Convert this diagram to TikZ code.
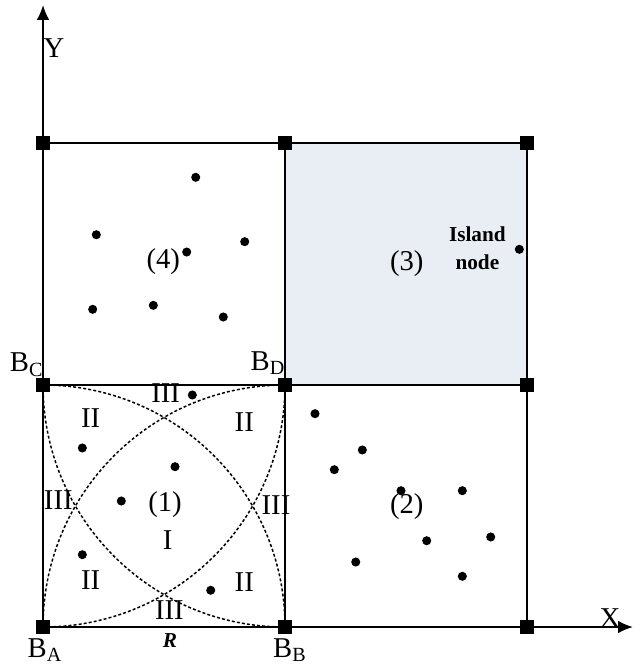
\documentclass[tikz,border=0pt]{standalone}
\usepackage{fontspec}
\setmainfont{Liberation Serif}
\usetikzlibrary{arrows.meta}

\definecolor{islandblue}{RGB}{233,238,244}

\tikzset{
  bus/.style={fill=black, minimum size=0.24cm, inner sep=0pt},
  load/.style={circle, fill=black, minimum size=0.15cm, inner sep=0pt},
  zone/.style={font=\fontsize{13.5}{15}\selectfont, inner sep=0pt},
  small/.style={font=\fontsize{10}{12}\selectfont\bfseries, inner sep=0pt},
  arcline/.style={line width=0.7pt, dash pattern=on 1.4pt off 1pt},
}

\begin{document}
\begin{tikzpicture}
\useasboundingbox (-0.711,-0.628) rectangle (9.835,10.364);

% Island area
\fill[islandblue] (4,4) rectangle (8,8);

% Grid
\draw[line width=1pt] (0,0) grid[step=4] (8,8);

% Axes
\coordinate (o) at (0,0);
\coordinate (xend) at (9.75,0);
\coordinate (yend) at (0,10.28);
\draw[line width=0.8pt, -{Latex[length=7pt,width=6pt]}] (o) -- (xend);
\draw[line width=0.8pt, -{Latex[length=7pt,width=6pt]}] (o) -- (yend);
\node[zone] (xlab) at (9.372,0.149) {X};
\node[zone] (ylab) at (0.182,9.570) {Y};

% Arcs of radius R
\draw[arcline] (4,0) arc[start angle=0, end angle=90, radius=4];
\draw[arcline] (0,0) arc[start angle=180, end angle=90, radius=4];
\draw[arcline] (0,4) arc[start angle=180, end angle=270, radius=4];
\draw[arcline] (0,0) arc[start angle=270, end angle=360, radius=4];

% Buses
\foreach \i in {0,1,2}
  \foreach \j in {0,1,2}
    \node[bus] (b\i\j) at (4*\i,4*\j) {};

% Bus names
\node[zone] (ba) at (0.033,-0.380) {B\textsubscript{A}};
\node[zone] (bb) at (4.083,-0.380) {B\textsubscript{B}};
\node[zone] (bc) at (-0.269,4.331) {B\textsubscript{C}};
\node[zone] (bd) at (3.719,4.364) {B\textsubscript{D}};
\node[small, font=\fontsize{10}{12}\selectfont\bfseries\itshape] (rlab) at (2.099,-0.226) {R};

% Zones of square (1)
\node[zone] (z1) at (2.028,3.868) {III};
\node[zone] (z2) at (0.788,3.455) {II};
\node[zone] (z3) at (3.327,3.393) {II};
\node[zone] (z4) at (0.253,2.099) {III};
\node[zone] (z5) at (3.851,2.017) {III};
\node[zone] (z6) at (2.061,1.438) {I};
\node[zone] (z7) at (0.788,0.777) {II};
\node[zone] (z8) at (3.327,0.749) {II};
\node[zone] (z9) at (2.088,0.281) {III};

% Area numbers
\node[zone] (a1) at (2.017,2.017) {(1)};
\node[zone] (a2) at (6.012,1.995) {(2)};
\node[zone] (a3) at (6.012,6.012) {(3)};
\node[zone] (a4) at (1.988,6.038) {(4)};
\node[small, align=center, font=\fontsize{10}{13}\selectfont\bfseries] (isl) at (7.18,6.26) {Island\\node};

% Load points
\foreach \x/\y [count=\k] in {
  2.524/7.433, 0.881/6.484, 3.334/6.369, 2.375/6.198,
  0.821/5.251, 1.823/5.317, 2.980/5.124,
  7.873/6.243,
  4.496/3.526, 5.278/2.926, 4.815/2.600, 5.917/2.253,
  6.931/2.253, 6.342/1.426, 7.400/1.488, 5.169/1.074, 6.931/0.838,
  2.468/3.835, 0.650/2.959, 2.182/2.650, 1.294/2.083,
  0.650/1.195, 2.772/0.607}
  \node[load] (d\k) at (\x,\y) {};

\end{tikzpicture}
\end{document}
